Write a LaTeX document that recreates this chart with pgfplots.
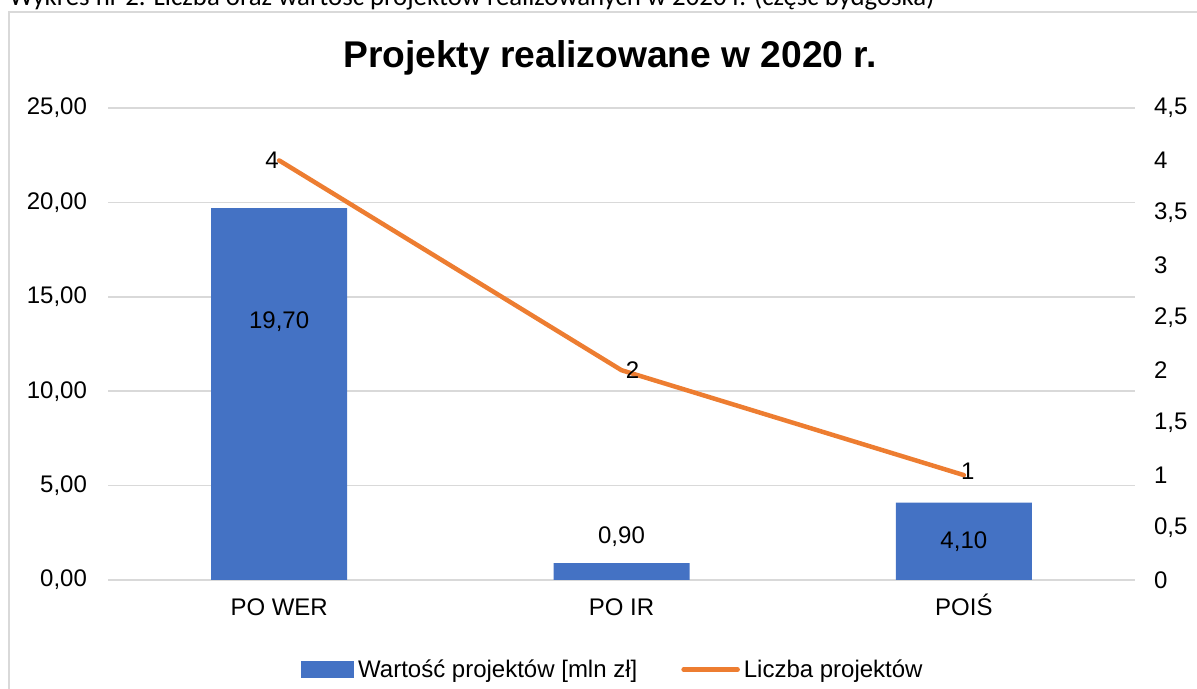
\documentclass[border=0pt]{standalone}
\usepackage{fontspec}
\setmainfont{Liberation Sans}
\newfontfamily\calibri{Carlito}
\usepackage{pgfplots}
\pgfplotsset{compat=1.18}
\definecolor{barblue}{HTML}{4472C4}
\definecolor{lineorange}{HTML}{ED7D31}
\definecolor{gridgray}{HTML}{D9D9D9}
\begin{document}
\begin{tikzpicture}
\useasboundingbox (-54pt,-54.5pt) rectangle (544.5pt,290pt);
\clip (-54pt,-54.5pt) rectangle (544.5pt,290pt);
\node[anchor=base west, inner sep=0pt, font=\calibri\fontsize{13.4}{16}\selectfont] at (-49.5pt,287pt) {Wykres nr 2. Liczba oraz wartość projektów realizowanych w 2020 r. (część bydgoska)};
\draw[gridgray, line width=1pt] (-49.25pt,-60pt) -- (-49.25pt,284pt) -- (550pt,284pt);
\node[font=\bfseries\fontsize{18.6}{22}\selectfont, anchor=base, inner sep=0pt] at (251pt,256pt) {Projekty realizowane w 2020 r.};
\begin{axis}[
 scale only axis, width=513.5pt, height=236pt,
 xmin=-0.5, xmax=2.5, ymin=0, ymax=25,
 xtick={0,1,2}, xticklabels={PO WER, PO IR, POIŚ},
 ytick={0,5,10,15,20,25},
 ymajorgrids, grid style={gridgray, line width=0.75pt},
 axis line style={draw=none}, major tick length=0pt,
 tick label style={font=\fontsize{12}{14}\selectfont},
 yticklabel style={xshift=-7pt, /pgf/number format/.cd, fixed, fixed zerofill, precision=2, use comma, assume math mode=true},
 xticklabel style={anchor=base, yshift=-18pt},
 clip=false,
]
\addplot[ybar, fill=barblue, draw=none, bar width=68pt] coordinates {(0,19.7) (1,0.9) (2,4.1)};
\node[font=\fontsize{12}{14}\selectfont] at (axis cs:0,13.67) {19,70};
\node[font=\fontsize{12}{14}\selectfont] at (axis cs:1,2.28) {0,90};
\node[font=\fontsize{12}{14}\selectfont] at (axis cs:2,2.05) {4,10};
\end{axis}
\begin{axis}[
 scale only axis, width=513.5pt, height=236pt,
 xmin=-0.5, xmax=2.5, ymin=0, ymax=4.5,
 axis x line=none, axis y line*=right,
 axis line style={draw=none}, major tick length=0pt,
 ytick={0,0.5,1,1.5,2,2.5,3,3.5,4,4.5},
 tick label style={font=\fontsize{12}{14}\selectfont},
 yticklabel style={xshift=6pt, /pgf/number format/.cd, use comma, assume math mode=true},
 clip=false,
 legend style={at={(0.4927,-0.19)}, anchor=center, draw=none, fill=none, font=\fontsize{12}{14}\selectfont,
   /tikz/every even column/.append style={column sep=20pt}},
 legend columns=2,
]
\addlegendimage{legend image code/.code={\fill[barblue] (0pt,-4pt) rectangle (26pt,4pt);}}
\addlegendentry{Wartość projektów [mln zł]}
\addplot[lineorange, line width=2.25pt, line cap=round, line join=round,
  legend image code/.code={\draw[lineorange, line width=2.25pt, line cap=round] (0pt,0pt) -- (27pt,0pt);}]
  coordinates {(0,4) (1,2) (2,1)};
\addlegendentry{Liczba projektów}
\node[font=\fontsize{12}{14}\selectfont, anchor=east, inner sep=0pt] at (axis cs:0,4) {4};
\node[font=\fontsize{12}{14}\selectfont, anchor=west, inner sep=0pt, xshift=2pt] at (axis cs:1,2) {2};
\node[font=\fontsize{12}{14}\selectfont, xshift=2pt, yshift=2pt] at (axis cs:2,1) {1};
\end{axis}
\end{tikzpicture}
\end{document}
